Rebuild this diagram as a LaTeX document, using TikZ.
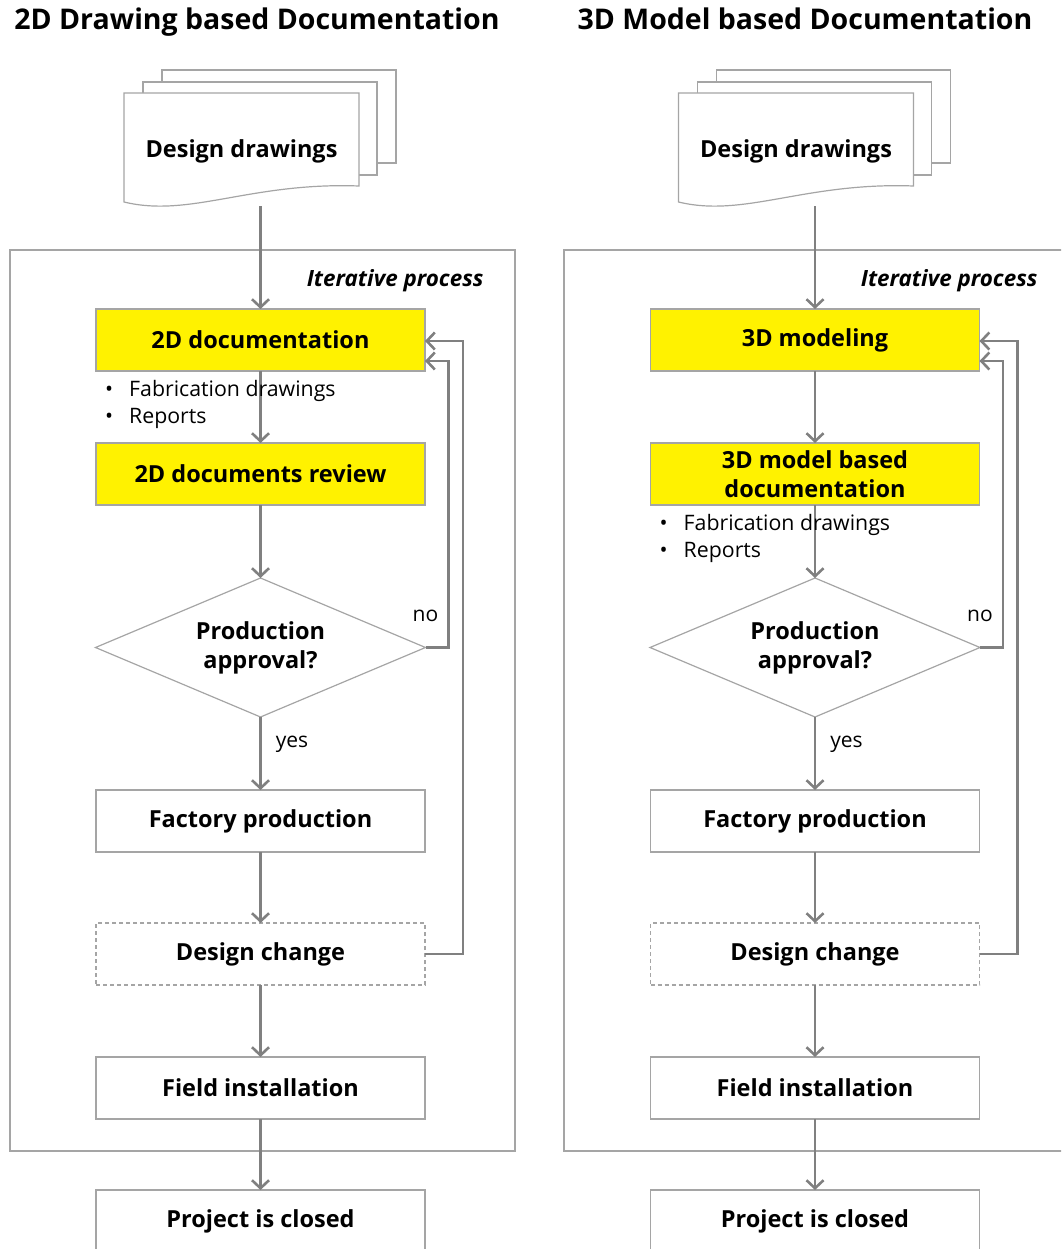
\documentclass[tikz,border=0pt]{standalone}
\usepackage{fontspec}
\setmainfont{Open Sans}
\usetikzlibrary{positioning, shapes.geometric, arrows.meta}

\definecolor{flowgray}{RGB}{128,128,128}
\definecolor{edgegray}{RGB}{165,165,165}

\begin{document}
\begin{tikzpicture}[
    x=1pt, y=-1pt,
    node distance=72pt,
    every node/.style={font=\fontsize{23.5}{29}\selectfont\bfseries},
    title/.style={font=\fontsize{28.5}{32}\selectfont\bfseries, anchor=base},
    procbox/.style={rectangle, draw=edgegray, line width=1.2pt, fill=white,
        minimum width=329pt, minimum height=62pt, inner sep=0pt, outer sep=0pt,
        align=center},
    docbox/.style={procbox, fill=yellow},
    changebox/.style={procbox, dash pattern=on 4pt off 3pt},
    decision/.style={diamond, draw=edgegray, line width=1.2pt, fill=white,
        shape aspect=2.37, minimum width=330pt, minimum height=139pt,
        inner sep=0pt, outer sep=0pt, align=center},
    page/.style={draw=edgegray, line width=1.2pt, fill=white},
    frame/.style={draw=edgegray, line width=1.2pt},
    bullets/.style={font=\fontsize{21.3}{27}\selectfont, inner sep=0pt, align=left},
    answer/.style={font=\fontsize{21}{24}\selectfont, inner sep=2pt},
    iter/.style={font=\fontsize{22.4}{26}\selectfont\bfseries\itshape},
    flow/.style={draw=flowgray, line width=2.6pt,
        -{Straight Barb[length=8pt, width=17pt, line width=2.6pt]}}
]
\useasboundingbox (0,0) rectangle (1061,1249);
\clip (0,0) rectangle (1061,1249);

% Titles
\node[title] (title2d) at (257,30) {2D Drawing based Documentation};
\node[title] (title3d) at (805,30) {3D Model based Documentation};

% Iteration frames
\draw[frame] (10,250) rectangle (515,1151);
\draw[frame] (564,250) rectangle (1075,1151);
\node[iter, anchor=base east] (iter2d) at (487,286) {Iterative process};
\node[iter, anchor=base east] (iter3d) at (1041,286) {Iterative process};

% Design drawings (stack of pages), left
\draw[page] (162,70) rectangle (396,163);
\draw[page] (143,82) rectangle (377,175);
\draw[page] (124,93) -- (359,93) -- (359,186)
    .. controls (250,182) and (190,218) .. (124,202) -- cycle;
\node[minimum width=235pt, minimum height=110pt] (dd2d) at (241.5,151) {Design drawings};

% Design drawings (stack of pages), right
\draw[page] (716.5,70) rectangle (950.5,163);
\draw[page] (697.5,82) rectangle (931.5,175);
\draw[page] (678.5,93) -- (913.5,93) -- (913.5,186)
    .. controls (804.5,182) and (744.5,218) .. (678.5,202) -- cycle;
\node[minimum width=235pt, minimum height=110pt] (dd3d) at (796,151) {Design drawings};

% Left flow: 2D drawing based
\node[docbox] (doc2d) at (260.5,340) {2D documentation};
\node[docbox, below=72pt of doc2d] (rev2d) {2D documents review};
\node[decision, below=73pt of rev2d] (appr2d) {Production\\approval?};
\node[procbox, below=73pt of appr2d] (fab2d) {Factory production};
\node[changebox, below=71pt of fab2d] (chg2d) {Design change};
\node[procbox, below=72pt of chg2d] (inst2d) {Field installation};
\node[procbox, below=71pt of inst2d] (close2d) {Project is closed};

% Right flow: 3D model based
\node[docbox] (mod3d) at (815,340) {3D modeling};
\node[docbox, below=72pt of mod3d] (doc3d) {3D model based\\documentation};
\node[decision, below=73pt of doc3d] (appr3d) {Production\\approval?};
\node[procbox, below=73pt of appr3d] (fab3d) {Factory production};
\node[changebox, below=71pt of fab3d] (chg3d) {Design change};
\node[procbox, below=72pt of chg3d] (inst3d) {Field installation};
\node[procbox, below=71pt of inst3d] (close3d) {Project is closed};

% Edges, left
\draw[flow] (dd2d.south -| doc2d.north) -- (doc2d);
\draw[flow] (doc2d) -- (rev2d);
\draw[flow] (rev2d) -- (appr2d);
\draw[flow] (appr2d) -- node[answer, right=12pt, pos=0.38] (yes2d) {yes} (fab2d);
\draw[flow] (fab2d) -- (chg2d);
\draw[flow] (chg2d) -- (inst2d);
\draw[flow] (inst2d) -- (close2d);
\draw[flow] (appr2d.east) -- ++(23,0) |- ([yshift=-21pt]doc2d.east);
\draw[flow] (chg2d.east) -- ++(38,0) |- ([yshift=-1pt]doc2d.east);
\node[answer, above=24pt of appr2d.east] (no2d) {no};

% Edges, right
\draw[flow] (dd3d.south -| mod3d.north) -- (mod3d);
\draw[flow] (mod3d) -- (doc3d);
\draw[flow] (doc3d) -- (appr3d);
\draw[flow] (appr3d) -- node[answer, right=12pt, pos=0.38] (yes3d) {yes} (fab3d);
\draw[flow] (fab3d) -- (chg3d);
\draw[flow] (chg3d) -- (inst3d);
\draw[flow] (inst3d) -- (close3d);
\draw[flow] (appr3d.east) -- ++(23,0) |- ([yshift=-21pt]mod3d.east);
\draw[flow] (chg3d.east) -- ++(38,0) |- ([yshift=-1pt]mod3d.east);
\node[answer, above=24pt of appr3d.east] (no3d) {no};

% Output lists
\node[bullets, below right=9pt and 9pt of doc2d.south west] (list2d)
    {\textbullet\hspace{16pt}Fabrication drawings\\ \textbullet\hspace{16pt}Reports};
\node[bullets, below right=9pt and 9pt of doc3d.south west] (list3d)
    {\textbullet\hspace{16pt}Fabrication drawings\\ \textbullet\hspace{16pt}Reports};

\end{tikzpicture}
\end{document}
